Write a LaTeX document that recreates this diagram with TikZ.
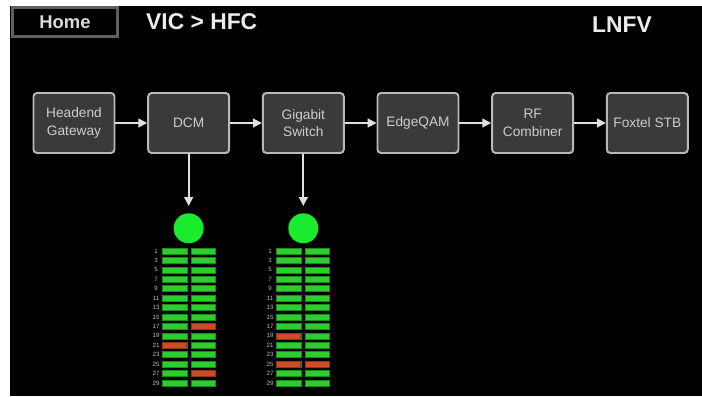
\documentclass[tikz,border=0pt]{standalone}
\usepackage{fontspec}
\setmainfont{Liberation Sans}
\usetikzlibrary{positioning,arrows.meta}

\definecolor{boxfill}{RGB}{58,58,58}
\definecolor{boxline}{RGB}{185,185,185}
\definecolor{boxtext}{RGB}{205,205,205}
\definecolor{homeline}{RGB}{95,95,95}
\definecolor{ledgreen}{RGB}{25,235,45}
\definecolor{portgreen}{RGB}{45,205,45}
\definecolor{portedge}{RGB}{25,140,25}
\definecolor{portred}{RGB}{205,75,40}

\tikzset{
  unit/.style={rectangle, rounded corners=2pt, draw=boxline, fill=boxfill, line width=1.1pt,
    minimum width=1.62cm, minimum height=1.2cm, text=boxtext, align=center,
    font=\fontsize{7.8}{10}\selectfont},
  flow/.style={-{Triangle[length=5pt,width=5pt]}, draw=white!88!black, line width=1pt},
  status/.style={circle, fill=ledgreen, minimum size=0.6cm, inner sep=0pt},
  okport/.style={fill=portgreen, draw=portedge, line width=0.4pt},
  badport/.style={fill=portred, draw=portred!70!black, line width=0.4pt},
  portnum/.style={text=white!75!black, font=\fontsize{3.5}{4}\selectfont, inner sep=0pt},
  heading/.style={text=white!92!black, font=\fontsize{13}{15}\bfseries\selectfont}
}

\begin{document}
\begin{tikzpicture}[x=0.02cm, y=-0.02cm, node distance=0.635cm]
    % Frame
    \fill[white] (0,0) rectangle (702,396);
    \fill[black] (10,6) rectangle (702,396);
    \useasboundingbox (0,0) rectangle (702,396);

    % Top bar
    \node [rectangle, draw=homeline, line width=1.2pt, minimum width=2.1cm, minimum height=0.58cm,
      text=white!85!black, font=\fontsize{10.5}{12}\bfseries\selectfont] (home) at (65,22) {Home};
    \node [heading, anchor=west] (crumb) at (140,22) {VIC > HFC};
    \node [heading] (site) at (622,25) {LNFV};

    % Signal chain
    \node [unit] (headend) at (74,123) {Headend\\Gateway};
    \node [unit, right=of headend] (dcm) {DCM};
    \node [unit, right=of dcm] (switch) {Gigabit\\Switch};
    \node [unit, right=of switch] (edgeqam) {EdgeQAM};
    \node [unit, right=of edgeqam] (combiner) {RF\\Combiner};
    \node [unit, right=of combiner] (stb) {Foxtel STB};

    % Status lights
    \node [status, below=1.18cm of dcm] (dcmled) {};
    \node [status, below=1.18cm of switch] (switchled) {};

    % Arrows
    \draw[flow] (headend) -- (dcm);
    \draw[flow] (dcm) -- (switch);
    \draw[flow] (switch) -- (edgeqam);
    \draw[flow] (edgeqam) -- (combiner);
    \draw[flow] (combiner) -- (stb);
    \draw[flow, shorten >=0.14cm] (dcm) -- (dcmled);
    \draw[flow, shorten >=0.14cm] (switch) -- (switchled);

    % Port tables
    \foreach \dev/\cx in {dcm/189, switch/303} {
      \foreach \row in {0,...,14} {
        \pgfmathtruncatemacro{\port}{2*\row+1}
        \node [portnum] (\dev-p\port) at (\cx-33, 251+9.43*\row) {\port};
        \filldraw[okport] (\cx-27, 248+9.43*\row) rectangle ++(25,6);
        \filldraw[okport] (\cx+2, 248+9.43*\row) rectangle ++(24,6);
      }
    }

    % Faulty ports
    \foreach \cx/\off/\row in {189/-27/10, 189/2/8, 189/2/13, 303/-27/9, 303/-27/12, 303/2/12} {
      \filldraw[badport] (\cx+\off, 248+9.43*\row) rectangle ++(24.5,6);
    }
\end{tikzpicture}
\end{document}
